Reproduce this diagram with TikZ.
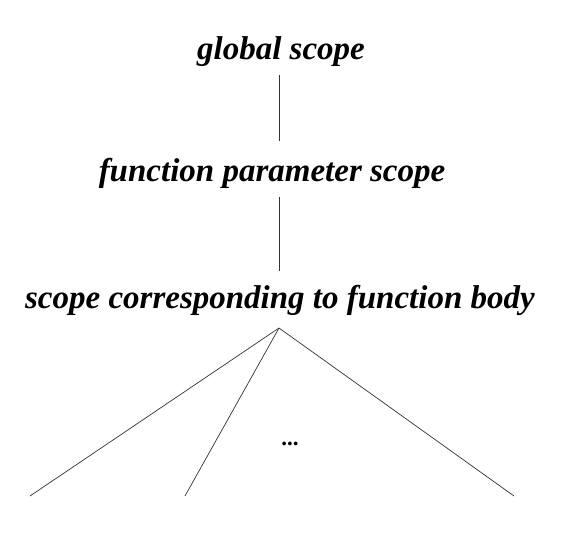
\documentclass[tikz,border=0pt]{standalone}
\usepackage{fontspec}
\setmainfont{Liberation Serif}
\usetikzlibrary{positioning,calc}

\begin{document}
\begin{tikzpicture}[
    x=1pt, y=-1pt,
    scopelabel/.style={inner sep=0pt, font=\fontsize{33}{38}\selectfont\bfseries\itshape},
    treeline/.style={draw=black!80, line width=0.7pt}
]
\useasboundingbox (0,0) rectangle (567,533);

% levels
\node[scopelabel] (global) at (281,52) {global scope};
\node[scopelabel] (param) at (272,173) {function parameter scope};
\node[scopelabel] (body) at (280,300) {scope corresponding to function body};

% branches
\coordinate (apex) at (279,328);
\coordinate (leafa) at (30,496);
\coordinate (leafb) at (185,496);
\coordinate (leafc) at (514,496);
\node[font=\fontsize{23}{26}\selectfont\bfseries] (dots) at (290,444) {...};

\draw[treeline] ($(global.south -| apex)+(0,8)$) -- ($(param.north -| apex)+(0,-17)$);
\draw[treeline] ($(param.south -| apex)+(0,9)$) -- ($(body.north -| apex)+(0,-14)$);
\draw[treeline] (leafa) -- (apex) -- (leafc);
\draw[treeline] (apex) -- (leafb);

\end{tikzpicture}
\end{document}
